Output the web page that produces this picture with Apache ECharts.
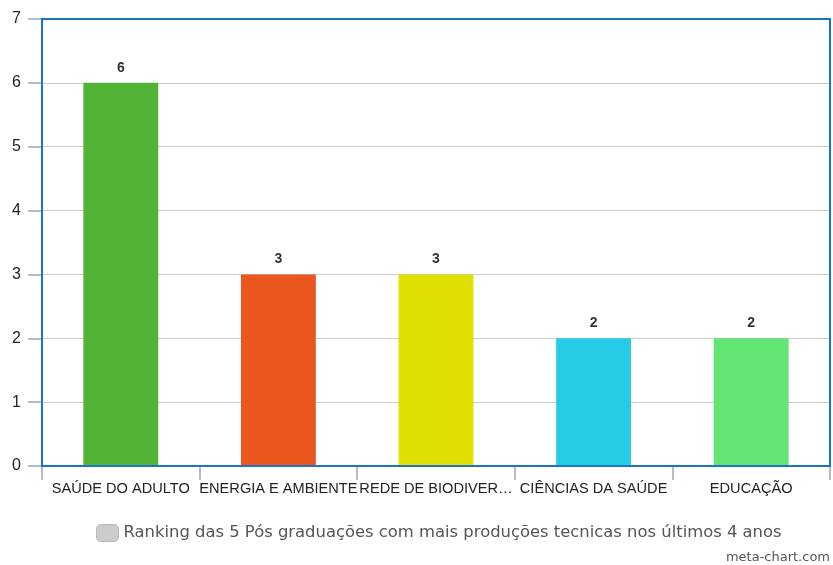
<!DOCTYPE html>
<html><head><meta charset="utf-8">
<script src="https://cdn.jsdelivr.net/npm/echarts@6/dist/echarts.min.js"></script>
<style>html,body{margin:0;padding:0;background:#fff}#c{width:833px;height:565px}</style>
</head><body><div id="c"></div>
<script>
const categories = ["SAÚDE DO ADULTO", "ENERGIA E AMBIENTE", "REDE DE BIODIVERSIDADE E BIOTECNOLOGIA", "CIÊNCIAS DA SAÚDE", "EDUCAÇÃO"];
const values = [6, 3, 3, 2, 2];
const barColors = ["#52b435", "#eb561e", "#dfe000", "#26cbe5", "#62e572"];
const seriesName = "Ranking das 5 Pós graduações com mais produções tecnicas nos últimos 4 anos";
const yTicks = {min: 0, max: 7, interval: 1};

const chart = echarts.init(document.getElementById('c'), null, {renderer: 'canvas'});
chart.setOption({
  animation: false,
  grid: {left: 42, right: 3, top: 19, bottom: 99, show: true, z: 5, borderColor: '#1a74c9', borderWidth: 2, backgroundColor: 'transparent'},
  legend: {
    left: 96, top: 524, padding: 0, itemWidth: 22, itemHeight: 17, itemGap: 8, icon: 'roundRect',
    textStyle: {fontFamily: 'DejaVu Sans', fontSize: 16.4, color: '#555'},
    data: [{name: seriesName, itemStyle: {color: '#cccccc', borderColor: '#b8b8b8', borderWidth: 1}}]
  },
  graphic: [{type: 'text', right: 3, bottom: 1, style: {text: 'meta-chart.com', font: '13px "DejaVu Sans"', fill: '#555'}}],
  xAxis: {
    type: 'category', data: categories, offset: 1,
    axisLine: {show: true, lineStyle: {color: '#b4bcc8', width: 1}},
    axisTick: {show: true, length: 14, lineStyle: {color: '#b4bcc8', width: 2}},
    axisLabel: {fontFamily: 'Liberation Sans', fontSize: 14.6, color: '#222', margin: 14, interval: 0,
      formatter: s => s.length > 18 ? s.slice(0, 16) + '…' : s},
    splitLine: {show: false}
  },
  yAxis: {
    type: 'value', min: yTicks.min, max: yTicks.max, interval: yTicks.interval, offset: 1,
    axisLine: {show: true, lineStyle: {color: '#b4bcc8', width: 1}},
    axisTick: {show: true, length: 13, lineStyle: {color: '#b4bcc8', width: 2}},
    axisLabel: {fontFamily: 'Liberation Sans', fontSize: 16, color: '#222', margin: 20},
    splitLine: {lineStyle: {color: '#cccccc', width: 1}}
  },
  series: [{
    name: seriesName, type: 'bar', barWidth: '47.5%',
    data: values.map((v, i) => ({value: v, itemStyle: {color: barColors[i]}})),
    itemStyle: {color: '#cccccc'},
    label: {show: true, position: 'top', distance: 8, fontFamily: 'Liberation Sans', fontWeight: 'bold', fontSize: 14, color: '#333'}
  }]
});
</script></body></html>
